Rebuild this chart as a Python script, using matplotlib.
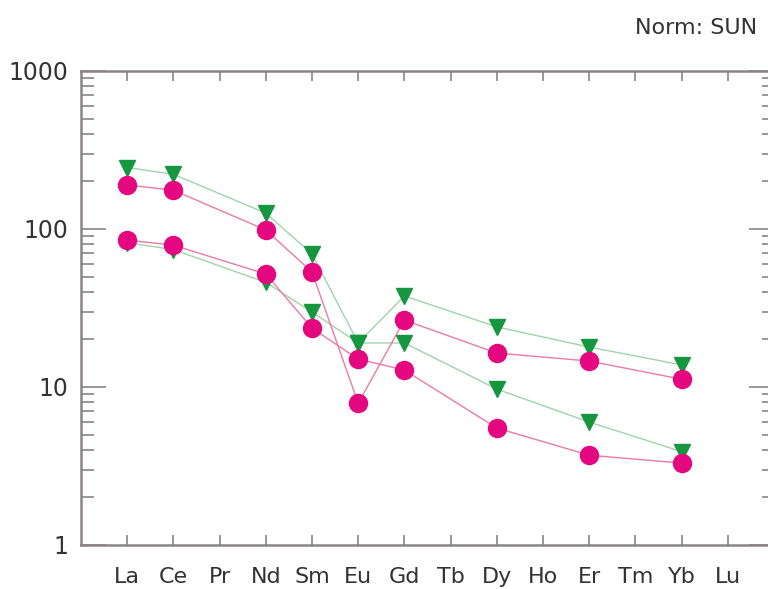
import matplotlib
matplotlib.use("Agg")
import matplotlib.pyplot as plt
import numpy as np
from matplotlib.ticker import LogLocator, NullFormatter, FixedLocator

elements = ["La", "Ce", "Pr", "Nd", "Sm", "Eu", "Gd", "Tb", "Dy", "Ho", "Er", "Tm", "Yb", "Lu"]
measured = ["La", "Ce", "Nd", "Sm", "Eu", "Gd", "Dy", "Er", "Yb"]

green_upper = [245, 222, 126, 69.5, 19.0, 37.7, 24.0, 17.9, 13.8]
magenta_upper = [190, 176, 98.6, 53.4, 7.9, 26.5, 16.4, 14.6, 11.2]
green_lower = [82, 74, 46, 29.8, 19.0, 19.0, 9.7, 6.0, 3.9]
magenta_lower = [85, 79, 51.9, 23.6, 15.0, 12.8, 5.5, 3.7, 3.3]

xpos = [elements.index(e) + 1 for e in measured]

fig = plt.figure(figsize=(7.68, 5.89), dpi=100)
ax = fig.add_axes([81/768, 1-545/589, (774-81)/768, (545-71)/589])
ax.set_yscale("log")
ax.set_ylim(1, 1000)
ax.set_xlim(0, 15)

gline = "#9fd4ab"
gmark = "#15963f"
mline = "#ec7aa6"
mmark = "#e5077f"

series = [
    (green_upper, gline, gmark, "v", 12),
    (green_lower, gline, gmark, "v", 12),
    (magenta_upper, mline, mmark, "o", 13),
    (magenta_lower, mline, mmark, "o", 13),
]
for vals, lc, mc, mk, ms in series:
    ax.plot(xpos, vals, color=lc, lw=1.0, zorder=2)
for vals, lc, mc, mk, ms in series:
    ax.plot(xpos, vals, ls="none", marker=mk, ms=ms, color=mc, mec=mc, zorder=3)

spine_c = "#8c8484"
for s in ax.spines.values():
    s.set_color(spine_c)
    s.set_linewidth(1.8)

ax.xaxis.set_major_locator(FixedLocator(np.arange(1, 15)))
ax.set_xticklabels(elements)
ax.yaxis.set_minor_locator(LogLocator(base=10, subs=np.arange(2, 10), numticks=20))
ax.yaxis.set_minor_formatter(NullFormatter())
ax.set_yticks([1, 10, 100, 1000])
ax.set_yticklabels(["1", "10", "100", "1000"])

ax.tick_params(axis="x", which="major", direction="in", length=7, width=1.2,
               color=spine_c, top=True, bottom=True, labelsize=16, pad=16,
               labelcolor="#333333")
ax.tick_params(axis="y", which="major", direction="in", length=18, width=1.2,
               color=spine_c, left=True, right=True, labelsize=17, pad=9,
               labelcolor="#333333")
ax.tick_params(axis="y", which="minor", direction="in", length=9, width=1.2,
               color=spine_c, left=True, right=True)

fig.text(757/768, 1-28/589, "Norm: SUN", ha="right", va="center", fontsize=16, color="#333333")

fig.savefig("out.png", dpi=100)
